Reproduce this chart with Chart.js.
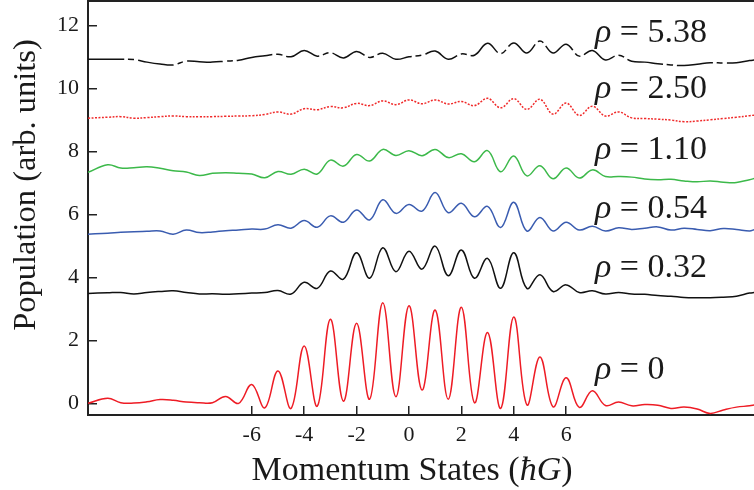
<!DOCTYPE html>
<html>
<head>
<meta charset="utf-8">
<script src="https://cdn.jsdelivr.net/npm/chart.js@4.4.0/dist/chart.umd.min.js"></script>
<style>
html, body { margin: 0; padding: 0; background: #fff; }
</style>
</head>
<body>
<canvas id="mycanvas" width="754" height="490"></canvas>
<script>
// momentum states (hbar G)
var xs = [-12.25, -11.5, -11, -10.5, -10, -9.5, -9, -8.5, -8, -7.5,
	-7, -6.5, -6, -5.5, -5, -4.5, -4, -3.5, -3, -2.5,
	-2, -1.5, -1, -0.5, 0, 0.5, 1, 1.5, 2, 2.5,
	3, 3.5, 4, 4.5, 5, 5.5, 6, 6.5, 7, 7.5,
	8, 8.5, 9, 9.5, 10, 10.5, 11, 11.5, 12, 12.5,
	13, 13.2];

var rho0 = [0.0, 0.16, 0.02, 0.01, 0.05, 0.12, 0.1, 0.04, 0.02, 0.02,
	0.22, 0.0, 0.60, -0.14, 1.03, -0.16, 1.82, -0.09, 2.67, 0.07,
	2.54, 0.13, 3.19, 0.21, 3.10, 0.42, 2.96, 0.13, 3.05, 0.02,
	2.25, -0.16, 2.74, -0.05, 1.47, -0.11, 0.81, -0.13, 0.40, -0.07,
	0.04, -0.08, -0.04, -0.06, -0.16, -0.12, -0.18, -0.32, -0.21, -0.12,
	-0.08, -0.05];

var rho032 = [3.49, 3.51, 3.52, 3.47, 3.52, 3.55, 3.57, 3.52, 3.47, 3.48,
	3.46, 3.48, 3.5, 3.52, 3.58, 3.47, 3.84, 3.65, 4.2, 3.94,
	4.78, 3.97, 4.94, 4.18, 4.83, 4.26, 4.99, 4.05, 4.87, 3.97,
	4.6, 3.65, 4.78, 3.65, 4.08, 3.55, 3.76, 3.52, 3.57, 3.47,
	3.52, 3.47, 3.46, 3.42, 3.4, 3.36, 3.35, 3.35, 3.37, 3.4,
	3.5, 3.52];

var rho054 = [5.37, 5.4, 5.43, 5.45, 5.46, 5.47, 5.37, 5.5, 5.42, 5.44,
	5.48, 5.5, 5.53, 5.53, 5.67, 5.56, 5.8, 5.59, 5.95, 5.75,
	6.14, 5.82, 6.46, 6.03, 6.31, 6.1, 6.69, 6.05, 6.35, 5.92,
	6.25, 5.58, 6.38, 5.47, 5.9, 5.47, 5.75, 5.5, 5.62, 5.47,
	5.57, 5.52, 5.56, 5.6, 5.5, 5.56, 5.52, 5.48, 5.55, 5.52,
	5.47, 5.52];

var rho110 = [7.33, 7.57, 7.47, 7.48, 7.51, 7.46, 7.38, 7.34, 7.23, 7.3,
	7.32, 7.3, 7.28, 7.16, 7.36, 7.27, 7.43, 7.28, 7.72, 7.53,
	7.9, 7.69, 8.06, 7.87, 8.02, 7.86, 8.06, 7.8, 7.92, 7.67,
	8.02, 7.35, 7.85, 7.22, 7.54, 7.13, 7.47, 7.15, 7.41, 7.2,
	7.2, 7.18, 7.12, 7.1, 7.11, 7.06, 7.03, 7.06, 7.02, 7.01,
	7.1, 7.14];

var rho250 = [9.05, 9.08, 9.1, 9.05, 9.07, 9.1, 9.12, 9.1, 9.1, 9.1,
	9.11, 9.12, 9.13, 9.17, 9.25, 9.18, 9.35, 9.32, 9.42, 9.38,
	9.52, 9.45, 9.6, 9.48, 9.63, 9.51, 9.63, 9.5, 9.58, 9.45,
	9.68, 9.38, 9.67, 9.33, 9.65, 9.18, 9.53, 9.14, 9.43, 9.12,
	9.25, 9.06, 9.04, 9.02, 8.99, 8.94, 8.96, 9.0, 9.04, 9.08,
	9.13, 9.15];

var rho538 = [10.92, 10.92, 10.92, 10.91, 10.83, 10.77, 10.74, 10.86, 10.84, 10.83,
	10.86, 10.89, 10.98, 11.03, 11.08, 11.0, 11.2, 11.02, 11.13, 10.96,
	11.17, 10.98, 11.11, 10.92, 11.0, 11.05, 11.18, 10.92, 11.09, 11.05,
	11.43, 11.1, 11.44, 11.12, 11.5, 11.12, 11.4, 11.02, 11.2, 10.9,
	11.05, 10.86, 10.83, 10.78, 10.74, 10.72, 10.76, 10.81, 10.8, 10.81,
	10.88, 10.9];

var xTicks = [-6, -4, -2, 0, 2, 4, 6];
var yTicks = [0, 2, 4, 6, 8, 10, 12];
var rhoLabels = ['0', '0.32', '0.54', '1.10', '2.50', '5.38'];

var serif = "'Liberation Serif', 'Times New Roman', serif";
var ink = '#1a1a1a';

function pts(vals) {
	return xs.map(function(x, i) { return {x: x, y: vals[i]}; });
}

// label baselines, in data units
var labelX = 7.1;
var labelY = [0.77, 4.01, 5.88, 7.76, 9.69, 11.47];

var decor = {
	id: 'decor',
	afterDraw: function(chart) {
		var ctx = chart.ctx;
		var area = chart.chartArea;
		var xs_ = chart.scales.x, ys_ = chart.scales.y;
		ctx.save();
		// top frame line
		ctx.strokeStyle = '#222';
		ctx.lineWidth = 2;
		ctx.beginPath();
		ctx.moveTo(area.left - 1, area.top);
		ctx.lineTo(area.right, area.top);
		ctx.stroke();

		ctx.fillStyle = ink;
		ctx.textBaseline = 'alphabetic';
		ctx.textAlign = 'left';
		// rho labels
		for (var i = 0; i < rhoLabels.length; i++) {
			var px = xs_.getPixelForValue(labelX);
			var py = ys_.getPixelForValue(labelY[i]);
			ctx.font = 'italic 34px ' + serif;
			ctx.fillText('\u03C1', px, py);
			var w = ctx.measureText('\u03C1').width;
			ctx.font = '34px ' + serif;
			ctx.fillText(' = ' + rhoLabels[i], px + w, py);
		}

		// x title
		var parts = [['Momentum States (', ''], ['\u0127G', 'italic '], [')', '']];
		var total = 0;
		parts.forEach(function(p) { ctx.font = p[1] + '34px ' + serif; total += ctx.measureText(p[0]).width; });
		var tx = 412 - total / 2;
		parts.forEach(function(p) {
			ctx.font = p[1] + '34px ' + serif;
			ctx.fillText(p[0], tx, 480);
			tx += ctx.measureText(p[0]).width;
		});

		// y title
		ctx.translate(35, 185);
		ctx.rotate(-Math.PI / 2);
		ctx.textAlign = 'center';
		ctx.font = '32.5px ' + serif;
		ctx.fillText('Population (arb. units)', 0, 0);
		ctx.restore();
	}
};

var ctx = document.getElementById('mycanvas');

var chart = new Chart(ctx, {
	type: 'line',
	data: {
		datasets: [
			{ label: 'rho = 0', data: pts(rho0), borderColor: '#ee1c25' },
			{ label: 'rho = 0.32', data: pts(rho032), borderColor: '#111111' },
			{ label: 'rho = 0.54', data: pts(rho054), borderColor: '#3a5cb0' },
			{ label: 'rho = 1.10', data: pts(rho110), borderColor: '#3cb94a' },
			{ label: 'rho = 2.50', data: pts(rho250), borderColor: '#f02a2a', borderDash: [2, 1.5] },
			{ label: 'rho = 5.38', data: pts(rho538), borderColor: '#111111', borderDash: [36, 4, 6, 4] }
		]
	},
	options: {
		responsive: false,
		animation: false,
		layout: { padding: { top: 1, right: 0, bottom: 0, left: 0 } },
		plugins: { legend: { display: false }, tooltip: { enabled: false } },
		elements: {
			point: { radius: 0 },
			line: { tension: 0.4, borderWidth: 1.5, fill: false }
		},
		scales: {
			x: {
				type: 'linear',
				min: -12.25,
				max: 13.17,
				afterBuildTicks: function(scale) {
					scale.ticks = xTicks.map(function(v) { return {value: v}; });
				},
				afterFit: function(scale) {
					scale.height = 75;
					scale.paddingLeft = 0;
					scale.paddingRight = 0;
				},
				grid: { drawOnChartArea: false, drawTicks: true, tickLength: -9, color: '#222', lineWidth: 1.5 },
				border: { color: '#222', width: 2 },
				ticks: { padding: 16, color: ink, maxRotation: 0, autoSkip: false, font: { family: serif, size: 22 } }
			},
			y: {
				min: -0.37,
				max: 12.77,
				afterBuildTicks: function(scale) {
					scale.ticks = yTicks.map(function(v) { return {value: v}; });
				},
				afterFit: function(scale) {
					scale.width = 88;
					scale.paddingTop = 0;
					scale.paddingBottom = 0;
				},
				grid: { drawOnChartArea: false, drawTicks: true, tickLength: -9, color: '#222', lineWidth: 1.5 },
				border: { color: '#222', width: 2 },
				ticks: { padding: 18, color: ink, autoSkip: false, font: { family: serif, size: 22 } }
			}
		}
	},
	plugins: [decor]
});
</script>
</body>
</html>
